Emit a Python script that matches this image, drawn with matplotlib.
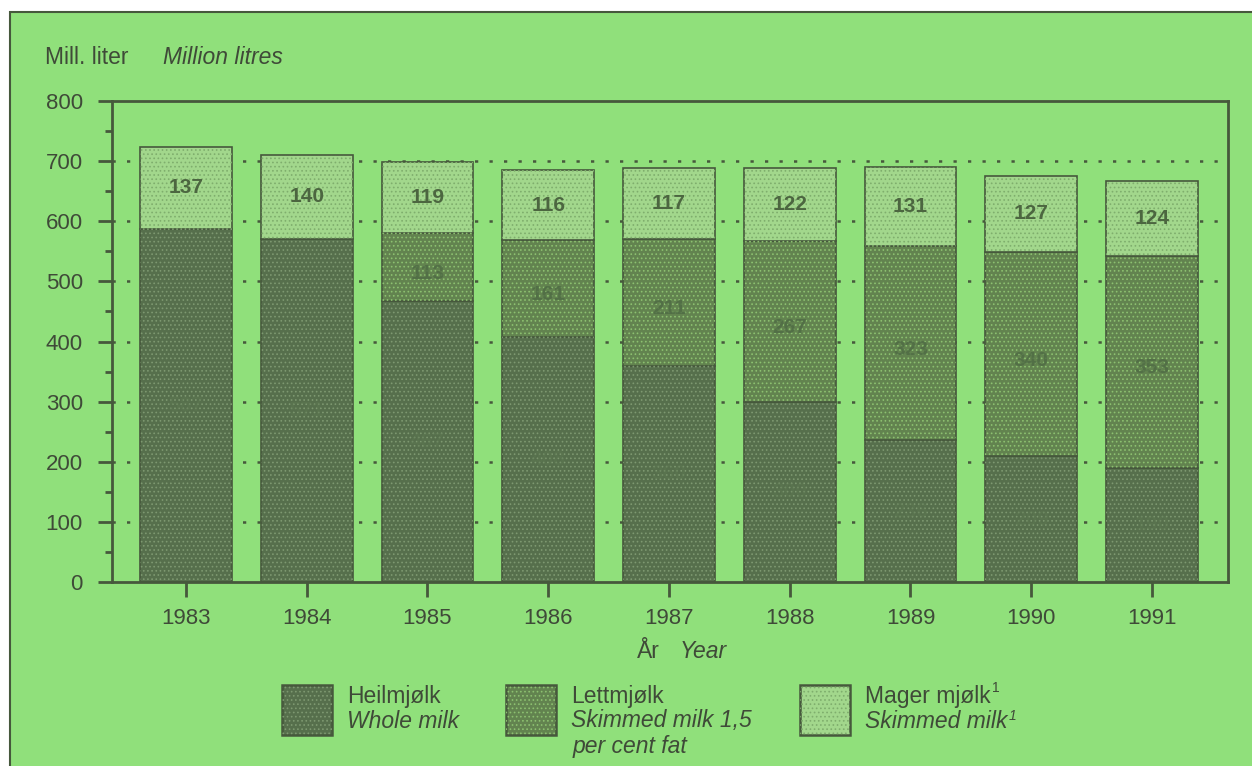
import numpy as np
import matplotlib.pyplot as plt
from matplotlib.patches import Rectangle

plt.rcParams['font.family'] = ['Liberation Sans', 'DejaVu Sans']
plt.rcParams['hatch.linewidth'] = 0.7

# data (million litres)
years = ['1983', '1984', '1985', '1986', '1987', '1988', '1989', '1990', '1991']
heilmjolk = [587, 571, 467, 408, 360, 300, 236, 209, 190]
lettmjolk = [0, 0, 113, 161, 211, 267, 323, 340, 353]
mager = [137, 140, 119, 116, 117, 122, 131, 127, 124]

bg = '#90e07b'
dark = '#566f4c'
mid = '#62834f'
light = '#a2d78c'
ink = '#46583c'
txt = '#3f4a38'

W, H = 1252, 766
fig = plt.figure(figsize=(W / 100, H / 100), dpi=100, facecolor='white')
# green panel with frame
fig.patches.append(Rectangle((10 / W, -0.01), 1.02, 1 - 12 / H + 0.01,
                             transform=fig.transFigure, facecolor=bg,
                             edgecolor=ink, linewidth=1.5, zorder=-5))

ax = fig.add_axes([112 / W, 1 - 582 / H, (1228 - 112) / W, (582 - 101) / H])
ax.set_facecolor('none')

x = np.arange(len(years))
w = 0.76
b2 = np.array(heilmjolk)
b3 = b2 + np.array(lettmjolk)

# dotted grid
for yv in range(100, 800, 100):
    ax.axhline(yv, color=ink, linestyle=(0, (1.3, 4.5)), linewidth=1.8, zorder=1)

ax.bar(x, heilmjolk, w, color=dark, edgecolor=ink, linewidth=1.2, zorder=2)
ax.bar(x, lettmjolk, w, bottom=b2, color=mid, edgecolor=ink, linewidth=1.2, zorder=2)
ax.bar(x, mager, w, bottom=b3, color=light, edgecolor=ink, linewidth=1.2, zorder=2)

# dot texture
for vals, bot, hc in [(heilmjolk, 0, '#7d9870'), (lettmjolk, b2, '#8cc070'),
                      (mager, b3, '#7fae6d')]:
    ax.bar(x, vals, w, bottom=bot, color='none', edgecolor=hc,
           linewidth=0, hatch='....', zorder=3)

# value labels
for i in range(len(years)):
    ax.text(x[i], b3[i] + mager[i] / 2, str(mager[i]), ha='center', va='center',
            fontsize=15, fontweight='bold', color='#4c6640', zorder=4)
    if lettmjolk[i] > 0:
        ax.text(x[i], b2[i] + lettmjolk[i] / 2 - 10, str(lettmjolk[i]), ha='center',
                va='center', fontsize=15, fontweight='bold', color='#4e6a44',
                alpha=0.8, zorder=4)
    ax.text(x[i], heilmjolk[i] / 2, str(heilmjolk[i]), ha='center', va='center',
            fontsize=15, fontweight='bold', color='#5d7852', alpha=0.45, zorder=4)

ax.set_xlim(-0.613, 8.63)
ax.set_ylim(0, 800)
ax.set_yticks(range(0, 900, 100))
ax.set_yticks(range(50, 800, 100), minor=True)
ax.set_xticks(x)
ax.set_xticklabels(years)
ax.tick_params(axis='y', which='major', length=10, width=2, color=ink, pad=11,
               labelsize=16, labelcolor=txt)
ax.tick_params(axis='y', which='minor', length=5, width=2, color=ink)
ax.tick_params(axis='x', length=11, width=2, color=ink, pad=8,
               labelsize=16, labelcolor=txt)
for s in ax.spines.values():
    s.set_color(ink)
    s.set_linewidth(2)

fig.text(45 / W, 1 - 57 / H, 'Mill. liter', fontsize=16.5, color=txt, va='center')
fig.text(163 / W, 1 - 57 / H, 'Million litres', fontsize=16.5, style='italic',
         color=txt, va='center')
fig.text(637 / W, 1 - 652 / H, 'År', fontsize=16.5, color=txt, va='center')
fig.text(680 / W, 1 - 652 / H, 'Year', fontsize=16.5, style='italic',
         color=txt, va='center')

# legend
legend_items = [
    (282, dark, '#7d9870', 'Heilmjølk', ['Whole milk'], False),
    (506, mid, '#8cc070', 'Lettmjølk', ['Skimmed milk 1,5', 'per cent fat'], False),
    (800, light, '#7fae6d', 'Mager mjølk', ['Skimmed milk'], True),
]
for px, fc, hc, reg, ital, note in legend_items:
    for h, e, lw in [(None, ink, 1.8), ('....', hc, 0)]:
        r = Rectangle((px / W, 1 - 735 / H), 50 / W, 50 / H,
                      transform=fig.transFigure, facecolor=fc if h is None else 'none',
                      edgecolor=e, linewidth=lw, hatch=h)
        fig.patches.append(r)
    tx = (px + 65) / W
    lines = [fig.text(tx, 1 - 697 / H, reg, fontsize=16.5, color=txt, va='center')]
    for k, t in enumerate(ital):
        lines.append(fig.text(tx + (2 / W if k else 0), 1 - (721 + 26 * k) / H, t,
                              fontsize=16.5, style='italic', color=txt, va='center'))
    if note:
        # footnote marks
        for t, st, dy in zip(lines, ['normal', 'italic'], [3, 0]):
            fig.add_artist(plt.Annotation('1', xy=(1.0, 1.0), xycoords=t,
                                          xytext=(1, dy), textcoords='offset points',
                                          fontsize=10, style=st, color=txt,
                                          ha='left', va='top'))

fig.savefig('out.png', dpi=100, facecolor=fig.get_facecolor())
